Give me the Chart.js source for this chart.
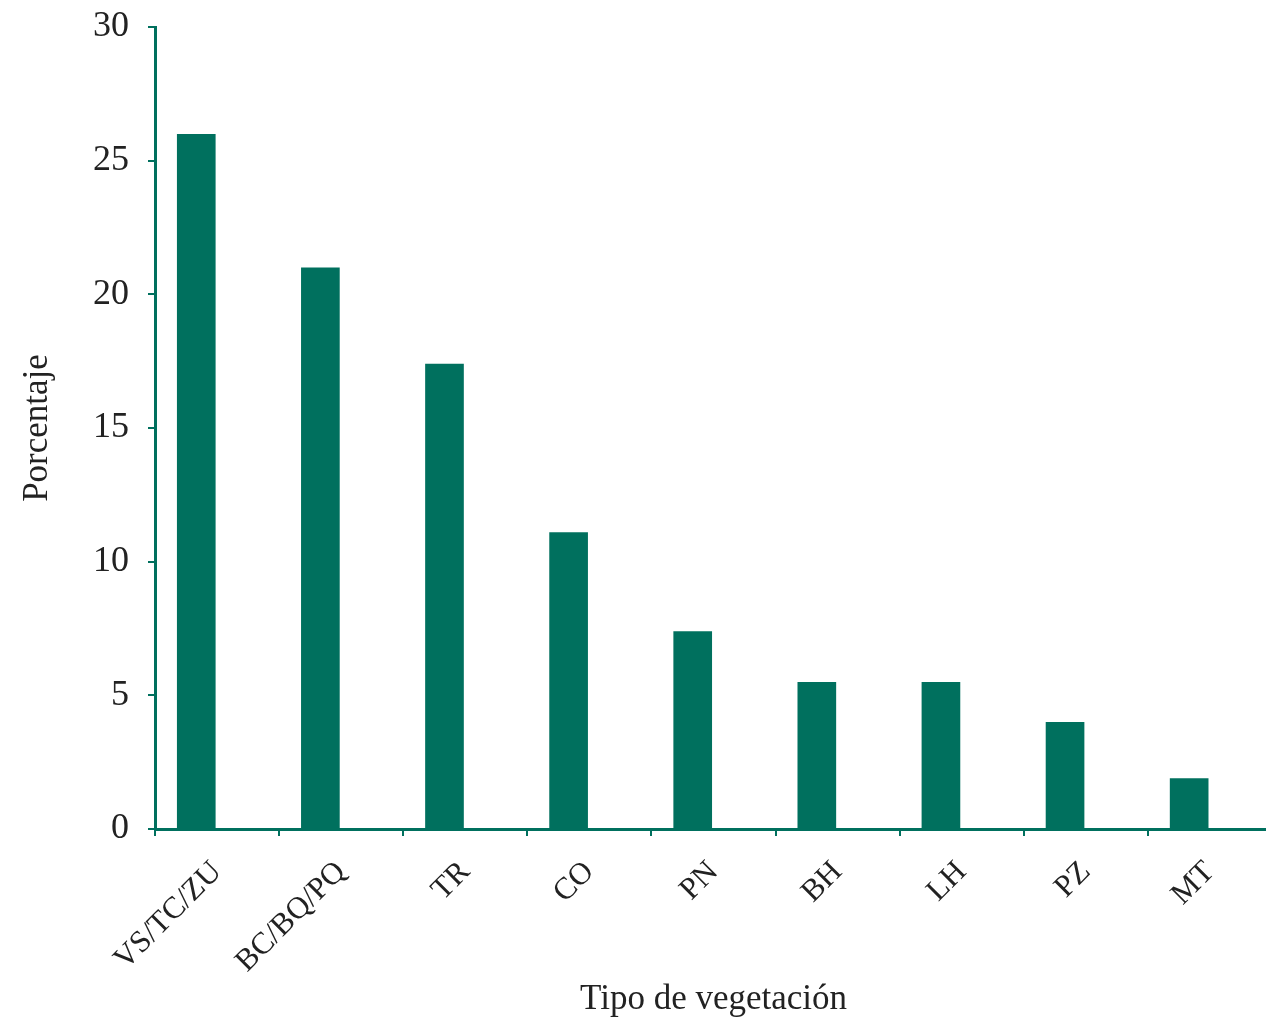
<!DOCTYPE html>
<html>
<head>
<meta charset="utf-8">
<script src="https://cdn.jsdelivr.net/npm/chart.js@4/dist/chart.umd.min.js"></script>
<style>
  html, body { margin: 0; padding: 0; background: #fff; overflow: hidden; }
  #wrap { width: 1282px; height: 1027px; }
</style>
</head>
<body>
<div id="wrap"><canvas id="chart" width="1282" height="1027"></canvas></div>
<script>
// Vegetation types and share of records (%)
const categories = ['VS/TC/ZU', 'BC/BQ/PQ', 'TR', 'CO', 'PN', 'BH', 'LH', 'PZ', 'MT'];
const percentages = [26, 21, 17.4, 11.1, 7.4, 5.5, 5.5, 4, 1.9];
// empty second series only keeps each bar on the left half of its slot
const spacer = categories.map(() => null);
const yTicks = [0, 5, 10, 15, 20, 25, 30];

const teal = '#00705e';
const serif = "'Liberation Serif', 'DejaVu Serif', serif";

const ctx = document.getElementById('chart').getContext('2d');

new Chart(ctx, {
    type: 'bar',
    data: {
        labels: categories,
        datasets: [{
            label: 'Porcentaje',
            data: percentages,
            backgroundColor: teal,
            borderWidth: 0,
            categoryPercentage: 0.67,
            barPercentage: 0.93
        }, {
            label: '',
            data: spacer,
            categoryPercentage: 0.67,
            barPercentage: 0.93
        }]
    },
    options: {
        responsive: false,
        animation: false,
        layout: {
            padding: { top: 27, right: 10, bottom: 6, left: 17 }
        },
        plugins: {
            legend: { display: false },
            tooltip: { enabled: false }
        },
        scales: {
            x: {
                offset: true,
                afterFit: (axis) => { axis.height = 192; },
                border: { color: teal, width: 3 },
                grid: {
                    offset: true,
                    drawOnChartArea: false,
                    drawTicks: true,
                    tickLength: 7,
                    color: teal,
                    lineWidth: 2
                },
                ticks: {
                    minRotation: 45,
                    maxRotation: 45,
                    padding: 18,
                    color: '#222',
                    font: { family: serif, size: 31 }
                },
                title: {
                    display: true,
                    text: 'Tipo de vegetación',
                    color: '#222',
                    font: { family: serif, size: 35 },
                    padding: { top: 2, bottom: 0 }
                }
            },
            y: {
                min: 0,
                max: 30,
                afterBuildTicks: (axis) => {
                    axis.ticks = yTicks.map(v => ({ value: v }));
                },
                afterFit: (axis) => {
                    axis.width = 138;
                    axis.paddingTop = 0;
                    axis.paddingBottom = 0;
                },
                border: { color: teal, width: 3 },
                grid: {
                    drawOnChartArea: false,
                    drawTicks: true,
                    tickLength: 7,
                    color: teal,
                    lineWidth: 2
                },
                ticks: {
                    padding: 19,
                    color: '#222',
                    font: { family: serif, size: 36 }
                },
                title: {
                    display: true,
                    text: 'Porcentaje',
                    color: '#222',
                    font: { family: serif, size: 35 },
                    padding: { top: 0, bottom: 14 }
                }
            }
        }
    }
});
</script>
</body>
</html>
